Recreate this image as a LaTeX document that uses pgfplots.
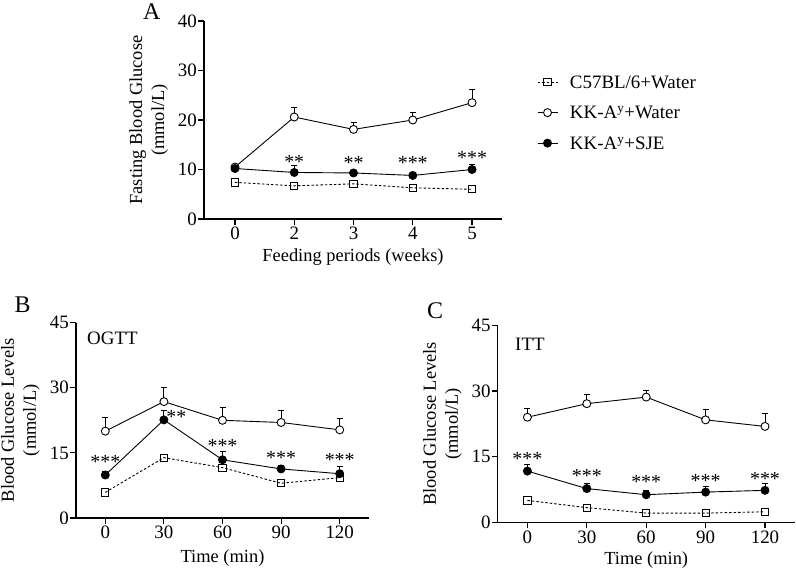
\documentclass[border=0pt]{standalone}
\usepackage{fontspec}
\setmainfont{Liberation Serif}
\usepackage{pgfplots}
\usepackage{pgfplotstable}
\pgfplotsset{compat=1.18}

\pgfplotsset{
  panel/.style={
    scale only axis,
    axis lines*=left,
    axis line style={line width=1.1bp, black},
    tick style={line width=1.1bp, black},
    tick align=outside,
    major tick length=6bp,
    ymin=0,
    /pgf/number format/assume math mode=true,
    tick label style={font=\fontsize{19}{19}\selectfont},
    yticklabel style={inner sep=1bp},
    xticklabel style={inner sep=2bp},
    label style={font=\fontsize{18.5}{22}\selectfont, align=center},
    clip=false,
    legend image code/.code={\draw[mark repeat=2,mark phase=2,##1] plot coordinates {(0bp,0bp) (10bp,0bp) (20bp,0bp)};},
  },
  sq/.style={black, line width=0.9bp, dash pattern=on 2.5bp off 2bp, mark=square, mark size=3.6bp, mark options={solid, line width=0.9bp}},
  oc/.style={black, line width=0.9bp, solid, mark=*, mark size=4bp, mark options={fill=white, solid}},
  fc/.style={black, line width=0.9bp, solid, mark=*, mark size=4bp, mark options={fill=black, solid}},
  errs/.style={error bars/.cd, y dir=plus, y explicit,
     error bar style={line width=0.9bp, solid, black},
     error mark options={rotate=90, mark size=3bp, line width=0.9bp, solid, black}},
}
\tikzset{stars/.style={font=\fontsize{20}{20}\selectfont, inner sep=0pt}}

\pgfplotstableread{
x sq oc oce fc fce
0 7.4 10.5 0.6 10.2 0.8
1 6.7 20.6 1.9 9.4 1.4
2 7.1 18.1 1.5 9.3 0.6
3 6.3 20.0 1.6 8.8 0.7
4 6.0 23.5 2.6 10.0 1.0
}\tabA

\pgfplotstableread{
x sq oc oce fc fce
0 5.9 20.0 3.2 9.9 0.9
30 13.9 26.8 3.2 22.6 2.1
60 11.6 22.5 2.9 13.4 1.9
90 8.0 22.0 2.7 11.3 0.8
120 9.3 20.3 2.7 10.2 1.6
}\tabB

\pgfplotstableread{
x sq oc oce fc fce
0 5.0 24.0 2.0 11.7 1.5
30 3.35 27.1 2.1 7.7 1.1
60 2.1 28.6 1.5 6.3 1.0
90 2.1 23.4 2.4 6.9 1.2
120 2.4 21.9 3.0 7.3 1.5
}\tabC

\begin{document}
\begin{tikzpicture}
\useasboundingbox (0,0) rectangle (796bp,572bp);

% Panel A
\begin{axis}[panel,
  at={(204bp,353bp)}, anchor=south west,
  width=298bp, height=198bp,
  xmin=-0.523, xmax=4.506, ymax=40,
  ytick={0,10,20,30,40},
  xtick={0,1,2,3,4}, xticklabels={0,2,3,4,5},
  xlabel={Feeding periods (weeks)},
  ylabel={Fasting Blood Glucose\\(mmol/L)},
  xlabel style={at={(axis description cs:0.5,-0.192)}, anchor=center},
  ylabel style={at={(axis description cs:-0.1856,0.5)}, anchor=center},
  legend style={at={(axis description cs:1.117,0.724)}, anchor=north west,
    draw=none, fill=none, inner sep=0pt, row sep=18bp,
    font=\fontsize{19}{19}\selectfont,
    nodes={inner sep=0pt, text depth=0pt}},
  legend cell align=left,
  legend style={/tikz/every odd column/.append style={column sep=12bp}},
]
\addplot[sq] table[x=x,y=sq]{\tabA};
\addplot[oc, errs] table[x=x,y=oc,y error=oce]{\tabA};
\addplot[fc, errs] table[x=x,y=fc,y error=fce]{\tabA};
\legend{C57BL/6+Water, KK-A\textsuperscript{y}+Water, KK-A\textsuperscript{y}+SJE}
\node[stars] at (axis cs:1,11.6) {**};
\node[stars] at (axis cs:2,11.3) {**};
\node[stars] at (axis cs:3,11.4) {***};
\node[stars] at (axis cs:4,12.3) {***};
\end{axis}

% Panel B
\begin{axis}[panel,
  at={(76bp,54bp)}, anchor=south west,
  width=293bp, height=195.4bp,
  xmin=-15, xmax=135, ymax=45,
  ytick={0,15,30,45},
  xtick={0,30,60,90,120},
  xlabel={Time (min)},
  ylabel={Blood Glucose Levels\\(mmol/L)},
  xlabel style={at={(axis description cs:0.5,-0.205)}, anchor=center},
  ylabel style={at={(axis description cs:-0.1894,0.5)}, anchor=center},
]
\addplot[sq] table[x=x,y=sq]{\tabB};
\addplot[oc, errs] table[x=x,y=oc,y error=oce]{\tabB};
\addplot[fc, errs] table[x=x,y=fc,y error=fce]{\tabB};
\node[stars] at (axis cs:0,13.0) {***};
\node[stars] at (axis cs:36.4,23.2) {**};
\node[stars] at (axis cs:60,16.5) {***};
\node[stars] at (axis cs:90,13.8) {***};
\node[stars] at (axis cs:120,13.4) {***};
\end{axis}

% Panel C
\begin{axis}[panel,
  at={(497.7bp,49.7bp)}, anchor=south west,
  width=297bp, height=197bp,
  xmin=-15, xmax=135, ymax=45,
  ytick={0,15,30,45},
  xtick={0,30,60,90,120},
  xlabel={Time (min)},
  ylabel={Blood Glucose Levels\\(mmol/L)},
  xlabel style={at={(axis description cs:0.5,-0.19)}, anchor=center},
  ylabel style={at={(axis description cs:-0.186,0.5)}, anchor=center},
]
\addplot[sq] table[x=x,y=sq]{\tabC};
\addplot[oc, errs] table[x=x,y=oc,y error=oce]{\tabC};
\addplot[fc, errs] table[x=x,y=fc,y error=fce]{\tabC};
\node[stars] at (axis cs:0,14.5) {***};
\node[stars] at (axis cs:30,10.5) {***};
\node[stars] at (axis cs:60,9.2) {***};
\node[stars] at (axis cs:90,9.55) {***};
\node[stars] at (axis cs:120,9.9) {***};
\end{axis}

\node[font=\fontsize{24}{24}\selectfont] at (151.7bp,560.3bp) {A};
\node[font=\fontsize{24}{24}\selectfont] at (22.7bp,267bp) {B};
\node[font=\fontsize{24}{24}\selectfont] at (435bp,261.3bp) {C};
\node[font=\fontsize{19}{19}\selectfont, anchor=west, inner sep=0pt] at (87bp,234bp) {OGTT};
\node[font=\fontsize{19}{19}\selectfont, anchor=west, inner sep=0pt] at (515bp,228bp) {ITT};
\end{tikzpicture}
\end{document}
